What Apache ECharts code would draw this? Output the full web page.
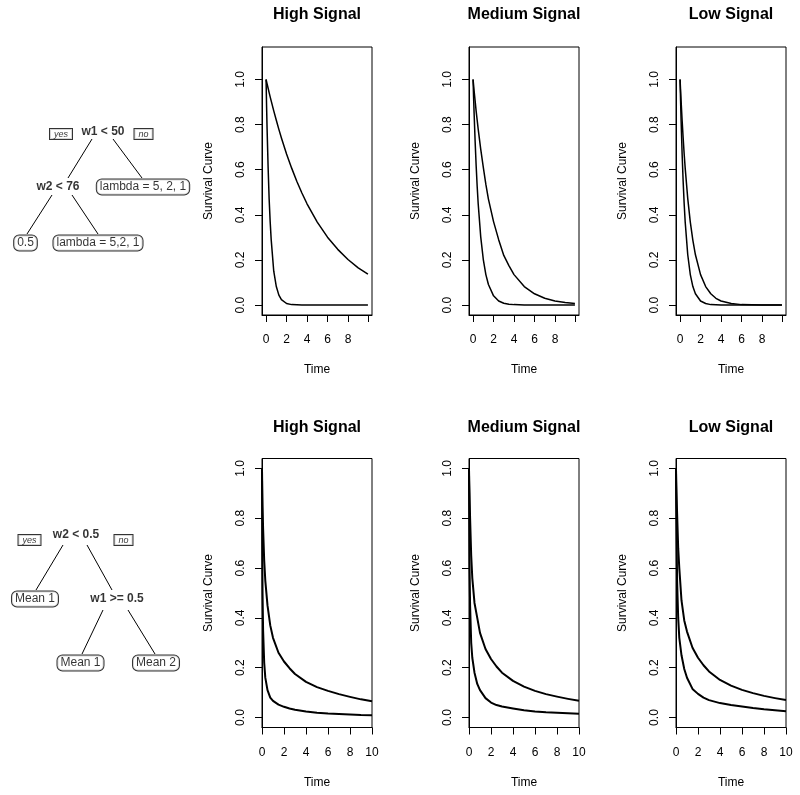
<!DOCTYPE html>
<html>
<head>
<meta charset="utf-8">
<script src="https://cdn.jsdelivr.net/npm/echarts@6/dist/echarts.min.js"></script>
<style>
  html, body { margin: 0; padding: 0; background: #fff; }
  #chart { width: 800px; height: 795px; }
</style>
</head>
<body>
<div id="chart"></div>
<script>
// time grids the curves were read on
const timeTop = [0, 0.05, 0.1, 0.2, 0.3, 0.4, 0.5, 0.75, 1, 1.25, 1.5, 2, 2.5, 3, 3.5, 4, 5, 6, 7, 8, 9, 9.95];
const timeBottom = [0, 0.02, 0.05, 0.1, 0.2, 0.3, 0.5, 0.75, 1, 1.5, 2, 2.5, 3, 4, 5, 6, 7, 8, 9, 10];

// top row
const highTopSlow = [1, 0.99, 0.98, 0.961, 0.942, 0.923, 0.905, 0.861, 0.819, 0.779, 0.741, 0.67, 0.607, 0.549, 0.497, 0.449, 0.368, 0.301, 0.247, 0.202, 0.165, 0.137];
const highTopFast = [1, 0.88, 0.78, 0.61, 0.47, 0.37, 0.29, 0.15, 0.082, 0.044, 0.024, 0.007, 0.002, 0.001, 0, 0, 0, 0, 0, 0, 0, 0];
const medTopSlow = [1, 0.975, 0.95, 0.905, 0.86, 0.82, 0.78, 0.69, 0.61, 0.535, 0.47, 0.37, 0.29, 0.22, 0.175, 0.135, 0.082, 0.05, 0.03, 0.018, 0.011, 0.007];
const medTopFast = [1, 0.923, 0.852, 0.726, 0.619, 0.527, 0.449, 0.301, 0.202, 0.135, 0.091, 0.041, 0.018, 0.008, 0.004, 0.002, 0, 0, 0, 0, 0, 0];
const lowTopSlow = [1, 0.951, 0.905, 0.819, 0.741, 0.67, 0.607, 0.472, 0.368, 0.287, 0.223, 0.135, 0.082, 0.05, 0.03, 0.018, 0.007, 0.002, 0.001, 0, 0, 0];
const lowTopFast = [1, 0.905, 0.819, 0.67, 0.549, 0.449, 0.368, 0.223, 0.135, 0.082, 0.05, 0.018, 0.007, 0.002, 0.001, 0, 0, 0, 0, 0, 0, 0];

// bottom row
const highBotUpper = [1, 0.93, 0.85, 0.76, 0.63, 0.55, 0.45, 0.37, 0.32, 0.26, 0.225, 0.198, 0.175, 0.143, 0.122, 0.107, 0.094, 0.083, 0.073, 0.065];
const highBotLower = [1, 0.7, 0.5, 0.35, 0.22, 0.16, 0.11, 0.08, 0.067, 0.052, 0.043, 0.036, 0.031, 0.024, 0.019, 0.016, 0.014, 0.012, 0.01, 0.009];
const medBotUpper = [1, 0.95, 0.9, 0.8, 0.65, 0.56, 0.46, 0.4, 0.34, 0.275, 0.235, 0.205, 0.18, 0.147, 0.124, 0.107, 0.094, 0.084, 0.075, 0.067];
const medBotLower = [1, 0.8, 0.6, 0.45, 0.3, 0.24, 0.18, 0.135, 0.11, 0.078, 0.06, 0.05, 0.044, 0.036, 0.029, 0.024, 0.021, 0.019, 0.017, 0.015];
const lowBotUpper = [1, 0.95, 0.9, 0.82, 0.68, 0.6, 0.47, 0.39, 0.345, 0.28, 0.24, 0.21, 0.185, 0.151, 0.128, 0.111, 0.098, 0.087, 0.078, 0.07];
const lowBotLower = [1, 0.85, 0.75, 0.55, 0.4, 0.32, 0.25, 0.195, 0.16, 0.115, 0.095, 0.08, 0.07, 0.058, 0.05, 0.044, 0.038, 0.033, 0.029, 0.025];

const panelTitles = ['High Signal', 'Medium Signal', 'Low Signal'];
const yTicks = [0, 0.2, 0.4, 0.6, 0.8, 1.0];
const xTicksTop = [0, 2, 4, 6, 8, 9.95];
const xLabelsTop = [0, 2, 4, 6, 8];

// tree diagrams, in the left-hand layout grid (units ~ px)
const treeSplits = [
  ['w1 < 50', 103, 132], ['w2 < 76', 58, 187],
  ['w2 < 0.5', 76, 535], ['w1 >= 0.5', 117, 599]
];
const treeLeaves = [
  ['lambda = 5, 2, 1', 143, 187], ['0.5', 25.5, 243], ['lambda = 5,2, 1', 98, 243],
  ['Mean 1', 35, 599], ['Mean 1', 80.5, 663], ['Mean 2', 156, 663]
];
const treeYesNo = [['yes', 61, 134], ['no', 143.5, 134], ['yes', 29.5, 540], ['no', 123.5, 540]];
const treeEdges = [
  [92, 139, 68, 178], [113, 139, 142, 178], [52, 195, 27, 234], [72, 195, 98, 234],
  [63, 545, 36, 590], [87, 545, 112, 590], [103, 610, 82, 654], [128, 610, 155, 654]
];

const FONT = '"Liberation Sans", Arial, Helvetica, sans-serif';
const panelLeft = [262, 469, 676];
const rows = [
  { top: 47, height: 268, xMin: -0.398, xMax: 10.348, yMin: -0.044, yMax: 1.144, time: timeTop,
    curves: [[highTopSlow, highTopFast], [medTopSlow, medTopFast], [lowTopSlow, lowTopFast]], titleY: 15 },
  { top: 458.5, height: 269, xMin: 0, xMax: 10, yMin: -0.04, yMax: 1.04, time: timeBottom,
    curves: [[highBotUpper, highBotLower], [medBotUpper, medBotLower], [lowBotUpper, lowBotLower]], titleY: 427.5 }
];

const grid = [], xAxis = [], yAxis = [], series = [], graphic = [];

rows.forEach((row, r) => {
  panelLeft.forEach((left, c) => {
    const idx = grid.length;
    grid.push({ left: left, top: row.top, width: 110, height: row.height, show: true,
      borderColor: '#000', borderWidth: 1, backgroundColor: 'transparent' });
    const xa = {
      type: 'value', gridIndex: idx, min: row.xMin, max: row.xMax,
      name: 'Time', nameLocation: 'middle', nameGap: 49,
      nameTextStyle: { fontFamily: FONT, fontSize: 12, color: '#000' },
      axisLine: { show: true, onZero: false, lineStyle: { color: '#000', width: 1 } },
      axisTick: { show: true, length: 7, lineStyle: { color: '#000' } },
      axisLabel: { fontFamily: FONT, fontSize: 12, color: '#000', margin: 19 },
      splitLine: { show: false }
    };
    if (r === 0) {
      xa.axisTick.customValues = xTicksTop;
      xa.axisLabel.customValues = xLabelsTop;
    } else {
      xa.interval = 2;
    }
    xAxis.push(xa);
    yAxis.push({
      type: 'value', gridIndex: idx, min: row.yMin, max: row.yMax,
      name: 'Survival Curve', nameLocation: 'middle', nameGap: 47,
      nameTextStyle: { fontFamily: FONT, fontSize: 12, color: '#000' },
      axisLine: { show: true, onZero: false, lineStyle: { color: '#000', width: 1 } },
      axisTick: { show: true, length: 7, customValues: yTicks, lineStyle: { color: '#000' } },
      axisLabel: { fontFamily: FONT, fontSize: 12, color: '#000', margin: 15, rotate: 90,
        customValues: yTicks, formatter: v => v.toFixed(1) },
      splitLine: { show: false }
    });
    row.curves[c].forEach(vals => {
      series.push({
        type: 'line', xAxisIndex: idx, yAxisIndex: idx, showSymbol: false, symbol: 'none',
        smooth: false, silent: true,
        lineStyle: { color: '#000', width: r === 0 ? 1.5 : 2, join: 'round' },
        data: row.time.map((t, i) => [t, vals[i]])
      });
    });
    graphic.push({
      type: 'text', x: left + 55, y: row.titleY, silent: true,
      style: { text: panelTitles[c], fill: '#000', align: 'center', verticalAlign: 'middle',
        font: 'bold 16px ' + FONT }
    });
  });
});

// layout grid for the trees
const treeIdx = grid.length;
grid.push({ left: 0, top: 0, width: 200, height: 795, show: false });
xAxis.push({ type: 'value', gridIndex: treeIdx, min: 0, max: 200, show: false });
yAxis.push({ type: 'value', gridIndex: treeIdx, min: 0, max: 795, inverse: true, show: false });

series.push({
  type: 'lines', coordinateSystem: 'cartesian2d', xAxisIndex: treeIdx, yAxisIndex: treeIdx,
  silent: true, lineStyle: { color: '#000', width: 1, opacity: 1 },
  data: treeEdges.map(e => ({ coords: [[e[0], e[1]], [e[2], e[3]]] }))
});

function labelSeries(items, labelStyle) {
  return {
    type: 'scatter', xAxisIndex: treeIdx, yAxisIndex: treeIdx, silent: true,
    symbolSize: 1, itemStyle: { color: 'rgba(0,0,0,0)' },
    label: Object.assign({ show: true, position: 'inside', color: '#000', formatter: p => p.name }, labelStyle),
    data: items.map(d => ({ name: d[0], value: [d[1], d[2]] }))
  };
}
series.push(labelSeries(treeSplits, { fontFamily: FONT, fontSize: 12, fontWeight: 'bold' }));
series.push(labelSeries(treeLeaves, { fontFamily: FONT, fontSize: 12, borderColor: '#000', borderWidth: 1,
  borderRadius: 5, padding: [2, 3, 1, 3], backgroundColor: '#fff' }));
series.push(labelSeries(treeYesNo, { fontFamily: FONT, fontSize: 9, fontStyle: 'italic', borderColor: '#000',
  borderWidth: 1, padding: [1, 4, 0, 4], backgroundColor: '#fff' }));

const chart = echarts.init(document.getElementById('chart'));
chart.setOption({
  animation: false,
  backgroundColor: '#fff',
  grid: grid,
  xAxis: xAxis,
  yAxis: yAxis,
  series: series,
  graphic: graphic
});
</script>
</body>
</html>
